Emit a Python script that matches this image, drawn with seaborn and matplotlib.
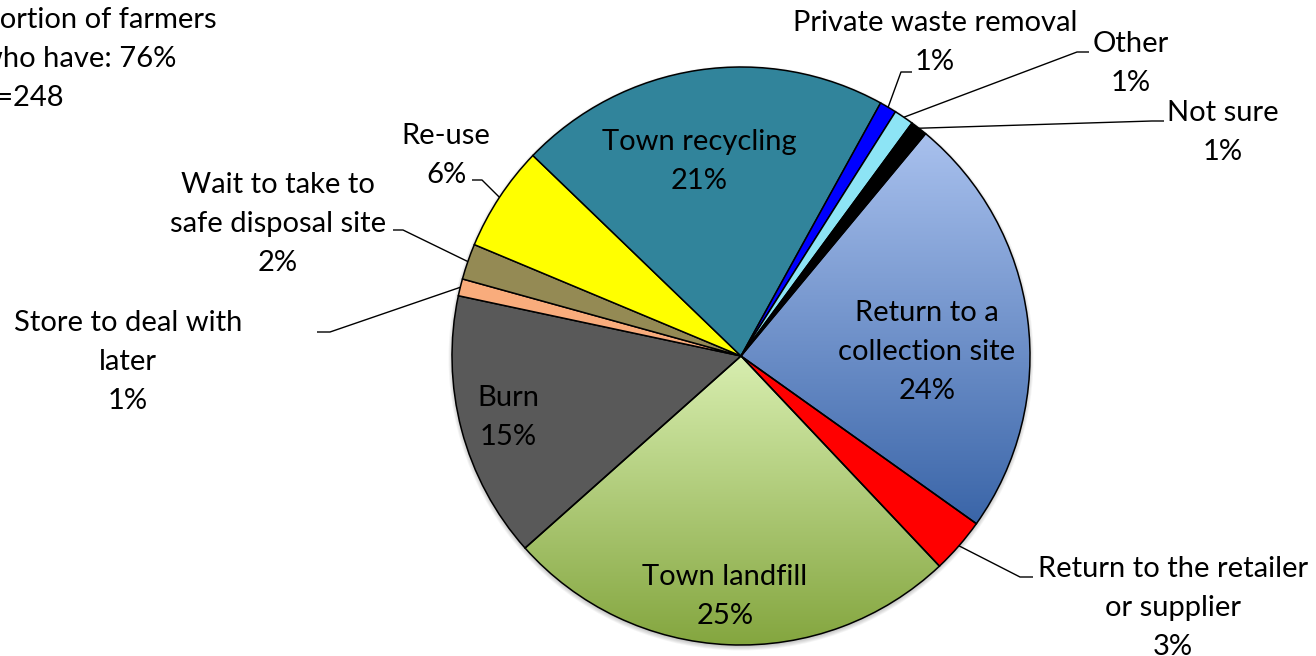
import numpy as np
import matplotlib
matplotlib.use("Agg")
import matplotlib.pyplot as plt
import seaborn as sns
from matplotlib.patches import Circle
from matplotlib.colors import LinearSegmentedColormap

# ---------------- data ----------------
categories = [
    "Return to a\ncollection site",
    "Return to the retailer\nor supplier",
    "Town landfill",
    "Burn",
    "Store to deal with\nlater",
    "Wait to take to\nsafe disposal site",
    "Re-use",
    "Town recycling",
    "Private waste removal",
    "Other",
    "Not sure",
]
shares = [23.8, 3.1, 25.45, 14.9, 0.95, 2.0, 5.9, 20.8, 0.95, 1.1, 0.95]
colors = ["#7F9FDB", "#FF0000", "#B0D080", "#595959", "#F9AC7C", "#948A54",
          "#FFFF00", "#31849B", "#0000FF", "#8DE4F5", "#000000"]
gradients = {0: ("#A9C1EE", "#3A65A8"), 2: ("#D8EEB0", "#84A63F")}
note_lines = ["Proportion of farmers", "who have: 76%", "n=248"]

# ---------------- layout (pixels) ----------------
W, H = 1316, 656
CX, CY, R = 741, 356, 289
FS = 21
DY = 39
# label anchor: (center x, first baseline y), inside flag, elbow points
label_layout = {
    0: (927, 321, None),
    1: (1173, 577, [(1020, 577), (1033, 577)]),
    2: (725, 585, None),
    3: (508, 406, None),
    4: (128, 331, [(330, 332), (317, 332)]),
    5: (278, 193, [(403, 230), (393, 230)]),
    6: (446, 144, [(482, 180), (472, 180)]),
    7: (699, 150, None),
    8: (935, 31, [(901, 72), (912, 72)]),
    9: (1131, 52, [(1077, 52), (1089, 52)]),
    10: (1223, 121, [(1152, 121), (1164, 121)]),
}

sns.set_theme(style="white")
plt.rcParams["font.family"] = ["Lato", "DejaVu Sans"]

fig = plt.figure(figsize=(W / 100, H / 100), dpi=100)
ax = fig.add_axes([0, 0, 1, 1])

def fy(y):
    return H - y

# soft shadow
for i in range(6):
    ax.add_patch(Circle((CX, fy(CY) - 2), R - 1 + i * 0.9, facecolor="black",
                        alpha=0.045, edgecolor="none", zorder=0.2))

wedges, _ = ax.pie(shares, colors=colors, startangle=50.3, counterclock=False,
                   center=(CX, fy(CY)), radius=R, frame=True,
                   wedgeprops=dict(edgecolor="black", linewidth=1.1))

grad = np.linspace(0, 1, 256).reshape(-1, 1)
for idx, (ctop, cbot) in gradients.items():
    w = wedges[idx]
    ext = w.get_path().get_extents()
    cmap = LinearSegmentedColormap.from_list(f"g{idx}", [ctop, cbot])
    im = ax.imshow(grad, cmap=cmap, extent=[ext.x0, ext.x1, ext.y0, ext.y1],
                   origin="upper", aspect="auto", zorder=0.9,
                   interpolation="bilinear")
    im.set_clip_path(w)
    w.set_facecolor("none")
    w.set_zorder(1.2)

def put(lines, x, y0, ha="center"):
    for i, s in enumerate(lines):
        ax.text(x, fy(y0 + i * DY), s, ha=ha, va="baseline", fontsize=FS,
                color="black", zorder=5)

for i, (name, v) in enumerate(zip(categories, shares)):
    x, y, elbow = label_layout[i]
    put(name.split("\n") + [f"{v:.0f}%"], x, y)
    if elbow:
        w = wedges[i]
        t = np.deg2rad((w.theta1 + w.theta2) / 2)
        px = [CX + R * np.cos(t)] + [p[0] for p in elbow]
        py = [fy(CY) + R * np.sin(t)] + [fy(p[1]) for p in elbow]
        ax.plot(px, py, color="black", lw=1.0, zorder=4, solid_capstyle="butt")

for s, xr, yb in zip(note_lines, [217, 176, 64], [28, 67, 106]):
    ax.text(xr, fy(yb), s, ha="right", va="baseline", fontsize=FS, color="black")

ax.set_xlim(0, W)
ax.set_ylim(0, H)
ax.set_aspect("auto")
ax.axis("off")
fig.savefig("out.png", dpi=100, facecolor="white")
